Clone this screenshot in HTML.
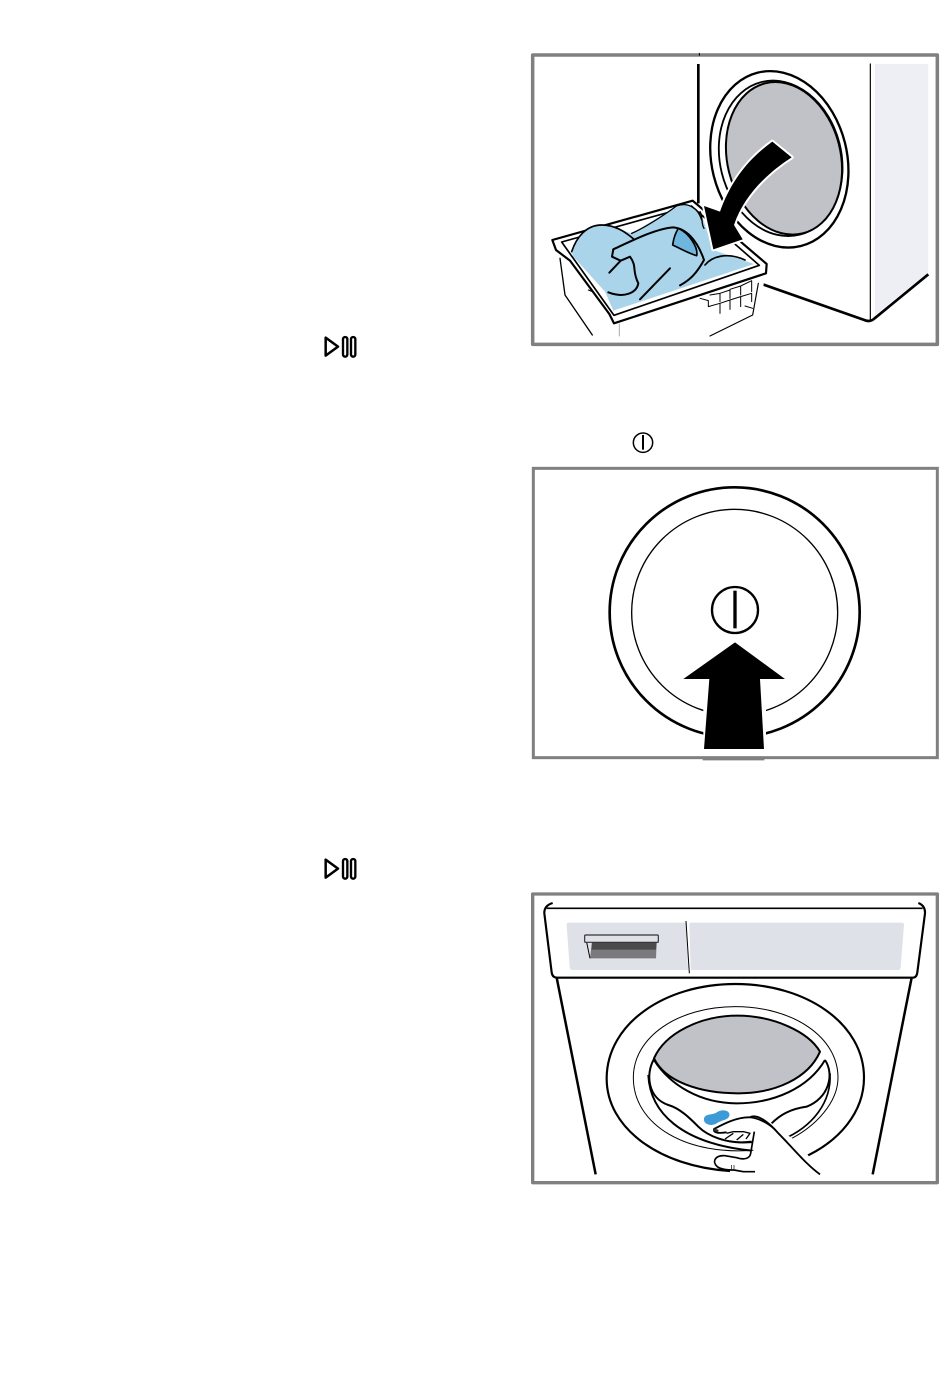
<!DOCTYPE html>
<html><head><meta charset="utf-8"><style>
html,body{margin:0;padding:0;background:#fff;width:950px;height:1392px;overflow:hidden}
svg{display:block}
</style></head><body>
<svg width="950" height="1392" viewBox="0 0 950 1392" xmlns="http://www.w3.org/2000/svg">
<rect width="950" height="1392" fill="#fff"/>

<!-- Panel 1 -->
<g transform="translate(530,40) scale(0.33333)" fill="none" stroke="#000" stroke-linejoin="round" stroke-linecap="round">
  <rect x="8" y="45" width="1214" height="868" fill="#fff" stroke="#808080" stroke-width="10.5"/>
  <path d="M1035,72H1195V697L1027,832H1035Z" fill="#eeeff5" stroke="none"/>
  <path d="M505,72V490" stroke-width="8" stroke-linecap="butt"/>
  <path d="M1021,72V838" stroke-width="3.5"/>
  <path d="M690,730L1003,840Q1020,848 1034,835L1195,703" stroke-width="8" stroke-linecap="butt"/>
  <ellipse cx="748" cy="358" rx="203" ry="268" transform="rotate(-14 748 358)" fill="#fff" stroke-width="7"/>
  <ellipse cx="752" cy="355" rx="182" ry="236" transform="rotate(-14 752 355)" stroke-width="5.5"/>
  <ellipse cx="762" cy="355" rx="170" ry="232" transform="rotate(-14 762 355)" fill="#c0c2c8" stroke-width="6"/>
  <!-- basket -->
  <path d="M90,650L190,890H265L268,850Z" fill="#fff" stroke="none"/>
  <path d="M250,850H268V888H540L685,825L710,680Z" fill="#fff" stroke="none"/>
  <path d="M90,655L105,765L187,885" stroke-width="4"/>
  <path d="M175,750L200,760L250,845" stroke-width="3"/>
  <path d="M268,852V888" stroke="#aaa" stroke-width="3"/>
  <path d="M685,730L668,825L540,888" stroke-width="3.5"/>
  <path d="M67,600L488,482L710,672L708,700L252,850L238,822L120,662L78,630Z" fill="#fff" stroke-width="6.5"/>
  <path d="M95,606L484,498L688,676L252,826Z" fill="#fff" stroke-width="5"/>
  <path d="M125,635C140,590 170,555 215,555C255,555 285,575 305,580C340,560 400,520 450,498C490,488 510,520 522,545L550,630L672,672L250,812L225,755L130,650Z" fill="#a9d4ea" stroke="none"/>
  <path d="M125,635C140,590 170,555 215,555C255,555 285,575 312,598" stroke-width="5"/>
  <path d="M305,580C340,565 395,530 440,498C475,485 505,505 515,540" stroke-width="4"/>
  <path d="M250,628C310,600 380,565 430,562C465,565 500,595 522,660C500,700 480,720 450,736" stroke-width="6"/>
  <path d="M250,628L246,650L272,662L238,698M272,662L300,650C322,680 305,690 325,730C320,760 280,775 235,757" stroke-width="6"/>
  <path d="M420,685L330,778" stroke-width="6"/>
  <path d="M445,565C430,590 430,605 428,615C450,625 475,640 500,647C505,625 480,580 445,565Z" fill="#6fb6de" stroke-width="5"/>
  <path d="M525,675C545,650 590,635 645,660" stroke-width="5"/>
  <path d="M510,515C520,530 512,550 522,565" stroke="#000" stroke-width="4"/>
  <!-- basket holes -->
  <path d="M510,775L535,782V800M540,765L570,760V785M535,800L570,790V820M570,760L600,750V775M570,790L600,780V808M600,748L632,738V765M600,780L632,770V800M632,738L665,722V755M632,770L665,760V785M645,798L668,805" stroke-width="3"/>
  <!-- arrow -->
  <path d="M727,305L785,352C710,400 640,470 612,555L638,598L550,628L522,498L570,515C600,430 650,360 727,305Z" fill="#000" stroke="#fff" stroke-width="12" paint-order="stroke"/>
  <path d="M508,40V46" stroke-width="3"/>
</g>

<!-- Small icons -->
<g transform="translate(310,325) scale(0.33333)" fill="none" stroke="#000" stroke-width="7" stroke-linejoin="round">
  <path d="M47,38V92L84,65Z" stroke-width="7.5"/>
  <rect x="99" y="36" width="13" height="59" rx="6.5"/>
  <rect x="123" y="36" width="13" height="59" rx="6.5"/>
</g>
<g transform="translate(310,847) scale(0.33333)" fill="none" stroke="#000" stroke-width="7" stroke-linejoin="round">
  <path d="M47,38V92L84,65Z" stroke-width="7.5"/>
  <rect x="99" y="36" width="13" height="59" rx="6.5"/>
  <rect x="123" y="36" width="13" height="59" rx="6.5"/>
</g>

<!-- Panel 2 -->
<g transform="translate(530,425) scale(0.33333)" fill="none" stroke="#000">
  <circle cx="339" cy="53" r="29" stroke-width="4.5"/>
  <path d="M339,30V74" stroke-width="6"/>
  <rect x="10" y="130" width="1212" height="868" fill="#fff" stroke="#808080" stroke-width="9"/>
  <path d="M518,1002H703" stroke="#808080" stroke-width="8"/>
  <circle cx="614" cy="562" r="375" stroke-width="8"/>
  <circle cx="614" cy="562" r="309" stroke-width="4"/>
  <path d="M520,800H708V985H520Z" fill="#fff" stroke="none"/>
  <circle cx="615" cy="555" r="69" fill="#fff" stroke-width="7"/>
  <path d="M615,497V610" stroke-width="10"/>
  <path d="M615,652L765,762H690L702,972H522L538,762H460Z" fill="#000" stroke="none"/>
</g>

<!-- Panel 3 -->
<g transform="translate(530,885) scale(0.33333)" fill="none" stroke="#000" stroke-linejoin="round">
  <rect x="8" y="27" width="1214" height="866" fill="#fff" stroke="#808080" stroke-width="10"/>
  <path d="M68,54Q42,62 43,85L65,262Q67,278 82,278H1148Q1160,278 1162,262L1185,85Q1186,62 1165,54" stroke-width="6.5"/>
  <path d="M50,70H1178" stroke-width="5"/>
  <path d="M80,278H1148" stroke-width="5"/>
  <path d="M116,113H468L474,255H128Q120,255 119,247L110,120Q110,113 116,113Z" fill="#dfe1e8" stroke="none"/>
  <path d="M484,113H1116Q1122,113 1122,120L1112,247Q1111,255 1104,255H486Q482,255 482,250L478,118Q478,113 484,113Z" fill="#dfe1e8" stroke="none"/>
  <path d="M468,108L478,265" stroke-width="3"/>
  <path d="M186,172H380L378,220H180Z" fill="#7a7a7c" stroke="none"/>
  <path d="M186,172H380L378,194H184Z" fill="#4a4a4c" stroke="none"/>
  <path d="M170,172L180,220" stroke-width="3"/>
  <rect x="164" y="150" width="221" height="22" rx="3" fill="#dfe1e8" stroke="#333" stroke-width="3.5"/>
  <path d="M80,278L197,868M1145,278L1028,868" stroke-width="7.5"/>
  <path d="M600,858C390,845 228,730 230,578C232,415 405,297 616,297C828,297 1002,415 1002,578C1002,680 930,770 815,820" stroke-width="6.5"/>
  <path d="M680,795C470,815 310,720 310,578C310,455 445,365 616,365C788,365 924,455 924,578C924,650 860,725 770,768" stroke-width="3"/>
  <path d="M372,520C405,445 510,392 622,392C730,392 835,440 870,500C835,580 735,625 625,625C510,625 405,590 372,520Z" fill="#c0c2c8" stroke-width="6"/>
  <path d="M372,525C420,600 510,655 620,655C730,655 835,610 885,525" stroke-width="6"/>
  <path d="M372,522C345,570 355,640 415,660C450,670 480,700 505,725C530,750 590,780 665,770" stroke-width="6"/>
  <path d="M885,525C915,570 895,640 830,665C780,672 750,690 725,715" stroke-width="6"/>
  <path d="M355,570C360,680 450,775 665,797" stroke-width="6"/>
  <path d="M900,565C905,650 850,725 755,765" stroke-width="5"/>
  <path d="M815,780L870,868H680L600,855L560,830L590,810L650,825L670,800L672,740L640,725L560,745L640,700L680,690L730,720Z" fill="#fff" stroke="none"/>
  <path d="M523,700C528,685 550,692 562,682C578,672 600,678 597,692C594,705 570,705 560,714C545,724 520,718 523,700Z" fill="#3d9ad6" stroke="#3d9ad6" stroke-width="2"/>
  <path d="M870,868C830,840 790,790 745,745C715,710 680,685 660,697C620,695 575,720 552,732C548,745 570,745 590,742" stroke-width="5.5"/>
  <path d="M660,697C690,700 725,720 745,745" stroke-width="5"/>
  <path d="M590,745L610,740L640,740L660,745L648,762M585,762L610,745M620,765L640,748" stroke-width="4"/>
  <path d="M550,733L565,738" stroke="#333" stroke-width="7"/>
  <path d="M673,740L662,805C660,822 640,825 620,818L585,812C555,810 545,830 562,845C575,855 600,855 612,855L640,860H675" stroke-width="5"/>
  <path d="M600,768C620,775 650,772 668,772" stroke-width="5"/>
  <path d="M605,840V852M612,840V852" stroke-width="2"/>
</g>
</svg>
</body></html>
